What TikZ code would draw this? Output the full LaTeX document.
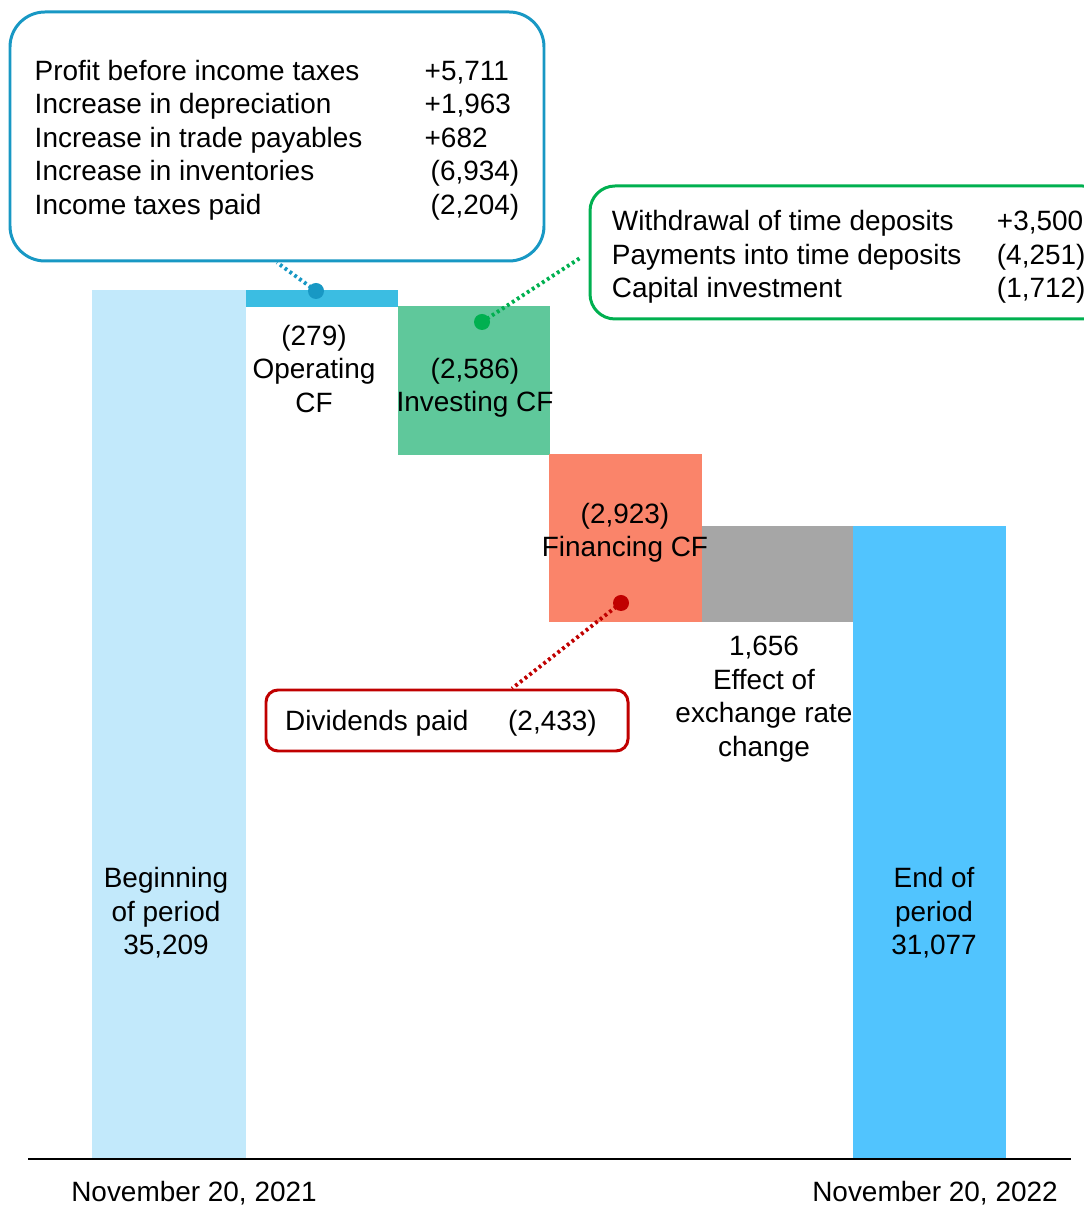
\documentclass[tikz,border=0pt]{standalone}
\usepackage{fontspec}
\setmainfont{Liberation Sans}
\usetikzlibrary{positioning, calc}
\definecolor{begincolor}  {RGB}{194, 233, 251}
\definecolor{opcolor}     {RGB}{59, 189, 226}
\definecolor{invcolor}    {RGB}{95, 200, 155}
\definecolor{fincolor}    {RGB}{250, 132, 106}
\definecolor{fxcolor}     {RGB}{166, 166, 166}
\definecolor{endcolor}    {RGB}{81, 196, 254}
\definecolor{oplinecolor} {RGB}{24, 152, 196}
\definecolor{invlinecolor}{RGB}{0, 176, 80}
\definecolor{finlinecolor}{RGB}{192, 0, 0}
\tikzset{
	barblock/.style={
		rectangle, inner sep=0pt, outer sep=0pt
	},
	barlabel/.style={
		align=center, inner sep=0pt,
		font=\fontsize{15.9}{19.1}\selectfont
	},
	callout/.style={
		rectangle, fill=white, line width=1.7pt,
		inner sep=0pt, font=\fontsize{15.9}{19.1}\selectfont
	},
	leader/.style={
		line width=2.2pt, dash pattern=on 1.6pt off 1.8pt
	},
	dotmark/.style={
		circle, inner sep=0pt, minimum size=0.32cm
	}
}

\begin{document}
\begin{tikzpicture}
		\useasboundingbox (0,0) rectangle (21.68,24.1);
		
		%% ═══════════════════════════════
		%%  BARS
		%% ═══════════════════════════════
		\node[barblock, fill=begincolor,
		minimum width=3.08cm,
		minimum height=17.38cm] (begin) at (3.38,9.61) {};
		
		\node[barblock, fill=opcolor,
		minimum width=3.04cm,
		minimum height=0.34cm] (opcf) at (6.44,18.13) {};
		
		\node[barblock, fill=invcolor,
		minimum width=3.04cm,
		minimum height=2.98cm] (invcf) at (9.48,16.49) {};
		
		\node[barblock, fill=fincolor,
		minimum width=3.06cm,
		minimum height=3.36cm] (fincf) at (12.51,13.34) {};
		
		\node[barblock, fill=fxcolor,
		minimum width=3.02cm,
		minimum height=1.92cm] (fx) at (15.55,12.62) {};
		
		\node[barblock, fill=endcolor,
		minimum width=3.06cm,
		minimum height=12.66cm] (end) at (18.59,7.25) {};
		
		% axis
		\coordinate (axisL) at (0.56,0.92);
		\coordinate (axisR) at (21.42,0.92);
		\draw[line width=0.8pt] (axisL) -- (axisR);
		
		%% ═══════════════════════════════
		%%  BAR LABELS
		%% ═══════════════════════════════
		\node[barlabel] (oplbl) at (6.28,16.72) {(279)\\Operating\\CF};
		\node[barlabel] (invlbl) at (9.5,16.34) {(2,586)\\Investing CF};
		\node[barlabel] (finlbl) at (12.5,13.44) {(2,923)\\Financing CF};
		\node[barlabel] (fxlbl) at (15.28,10.12) {1,656\\Effect of\\exchange rate\\change};
		\node[barlabel] (beglbl) at (3.32,5.84) {Beginning\\of period\\35,209};
		\node[barlabel] (endlbl) at (18.68,5.84) {End of\\period\\31,077};
		
		% dates
		\node[barlabel] (date1) at (3.88,0.24) {November 20, 2021};
		\node[barlabel] (date2) at (18.7,0.24) {November 20, 2022};
		
		%% ═══════════════════════════════
		%%  CALLOUTS
		%% ═══════════════════════════════
		\node[callout, draw=oplinecolor, rounded corners=0.7cm,
		minimum width=10.68cm,
		minimum height=4.98cm] (opbox) at (5.54,21.37) {%
			\begin{tabular}{@{}p{7.8cm}@{}l@{}}
				\rule{0pt}{0.63cm}Profit before income taxes & +5,711\\
				Increase in depreciation & +1,963\\
				Increase in trade payables & +682\\
				Increase in inventories & \hspace{3.4pt}(6,934)\\
				Income taxes paid & \hspace{3.4pt}(2,204)
			\end{tabular}};
		
		\node[callout, draw=invlinecolor, rounded corners=0.5cm,
		minimum width=10.35cm,
		minimum height=2.66cm] (invbox) at (16.975,19.05) {%
			\begin{tabular}{@{}p{7.7cm}@{}l@{}}
				\rule{0pt}{0.67cm}Withdrawal of time deposits & +3,500\\
				Payments into time deposits & (4,251)\\
				Capital investment & (1,712)
			\end{tabular}};
		
		\node[callout, draw=finlinecolor, rounded corners=0.24cm,
		minimum width=7.24cm,
		minimum height=1.22cm] (finbox) at (8.94,9.69) {%
			\begin{tabular}{@{}p{4.46cm}@{}l@{\hspace{0.24cm}}}
				\rule{0pt}{0.59cm}Dividends paid & (2,433)
			\end{tabular}};
		
		% markers on the bars
		\node[dotmark, fill=oplinecolor] (opdot) at (6.32,18.28) {};
		\node[dotmark, fill=invlinecolor] (invdot) at (9.64,17.66) {};
		\node[dotmark, fill=finlinecolor] (findot) at (12.42,12.04) {};
		
		% leaders
		\draw[leader, oplinecolor] (opdot.center) -- (opbox.south);
		\draw[leader, invlinecolor, shorten >=0.2cm] (invdot.center) -- (invbox.west);
		\draw[leader, finlinecolor] (findot.center) -- ([xshift=1.3cm]finbox.north);
		
	\end{tikzpicture}
\end{document}
